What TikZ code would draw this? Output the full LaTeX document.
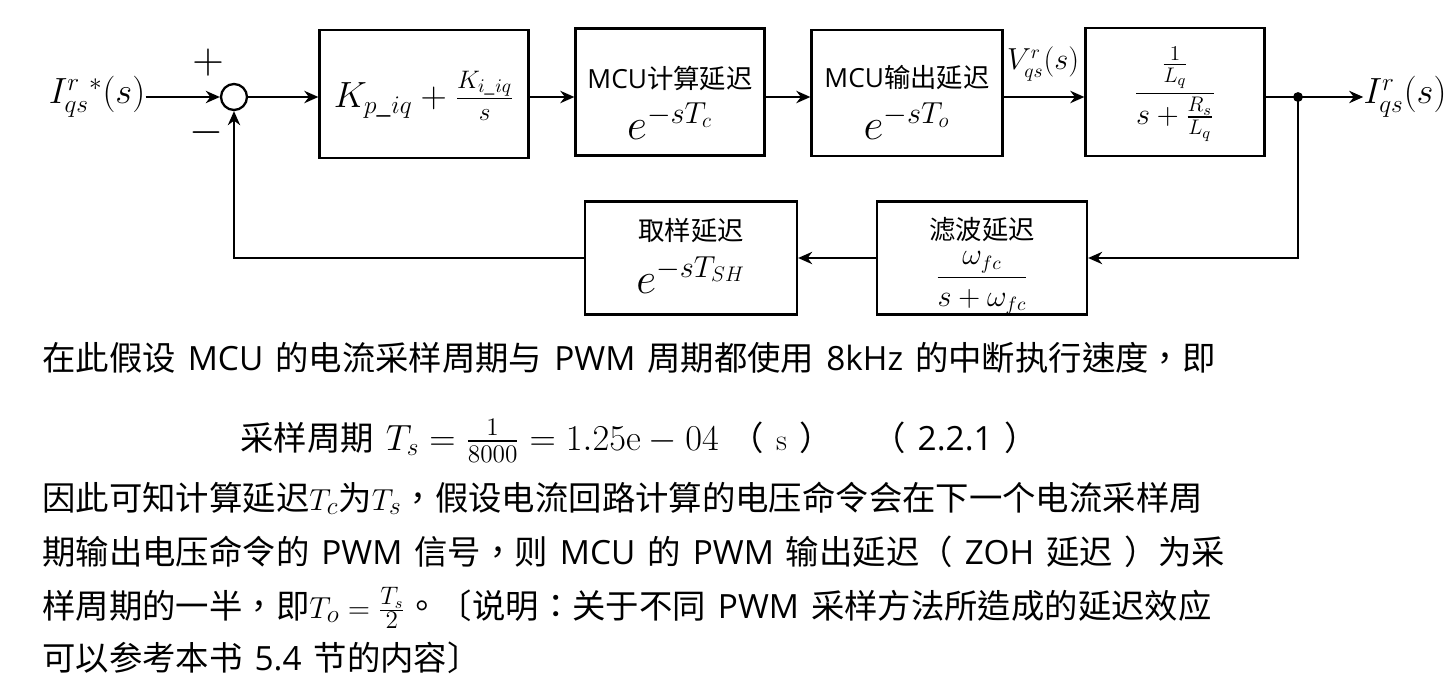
\documentclass[tikz,border=0pt]{standalone}
\usepackage{amsmath}
\usepackage[no-math]{fontspec}
\setmainfont{Noto Sans CJK TC}[WordSpace=1.6]
\newfontfamily\lt{Open Sans}
\usetikzlibrary{arrows.meta}

\begin{document}
\begin{tikzpicture}[x=0.02cm,y=-0.02cm,
  blk/.style={draw,line width=1.3pt,inner sep=0pt},
  sig/.style={line width=1.3pt,-{Stealth[length=8pt,width=7pt]}},
  wire/.style={line width=1.3pt},
  cap15/.style={font=\fontsize{15}{18}\selectfont,inner sep=0pt},
  mth/.style={font=\fontsize{24}{28}\selectfont,inner sep=0pt},
  sym/.style={font=\fontsize{20.5}{24}\selectfont,inner sep=0pt},
  para/.style={anchor=base west,inner sep=0pt,font=\fontsize{19}{23}\selectfont}]
\useasboundingbox (0,0) rectangle (1454,693);

% forward path
\node[sym] (iref) at (97,97) {$I_{qs}^{r}{}^{*}(s)$};
\node[draw,circle,line width=1.3pt,minimum size=0.52cm,inner sep=0pt] (sum) at (234,97) {};
\node[mth] at (208,63) {$+$};
\node[mth] at (206,133) {$-$};

\node[blk,minimum width=4.18cm,minimum height=2.56cm] (pi) at (424,94) {};
\node[font=\fontsize{21.5}{25}\selectfont,inner sep=0pt] at (424,96) {$K_{p\_iq}+\frac{K_{i\_iq}}{s}$};

\node[blk,minimum width=3.78cm,minimum height=2.54cm] (mcuc) at (670,92) {};
\node[cap15] at (670,78) {{\lt MCU}计算延迟};
\node[mth] at (670,121) {$e^{-sT_c}$};

\node[blk,minimum width=3.82cm,minimum height=2.52cm] (mcuo) at (907,93) {};
\node[cap15] at (907,78) {{\lt MCU}输出延迟};
\node[mth] at (907,121) {$e^{-sT_o}$};
\node[inner sep=0pt,font=\fontsize{16}{19}\selectfont] (vq) at (1043,64) {$V_{qs}^{r}(s)$};

\node[blk,minimum width=3.58cm,minimum height=2.56cm] (plant) at (1175,92) {};
\node[inner sep=0pt,font=\fontsize{18}{21}\selectfont] at (1175,94) {$\dfrac{\frac{1}{L_q}}{s+\frac{R_s}{L_q}}$};

\coordinate (tap) at (1298,97);
\node[sym] (iout) at (1405,97) {$I_{qs}^{r}(s)$};

% feedback path
\node[blk,minimum width=4.2cm,minimum height=2.26cm] (filt) at (982,258) {};
\node[cap15] at (982,230) {滤波延迟};
\node[inner sep=0pt,font=\fontsize{16}{19}\selectfont] at (982,283) {$\dfrac{\omega_{fc}}{s+\omega_{fc}}$};

\node[blk,minimum width=4.24cm,minimum height=2.26cm] (samp) at (691,258) {};
\node[cap15] at (691,231) {取样延迟};
\node[mth] at (691,275) {$e^{-sT_{SH}}$};

\draw[sig] (iref.east) -- (sum.west);
\draw[sig] (sum.east) -- (pi.west |- sum);
\draw[sig] (pi.east |- sum) -- (mcuc.west |- sum);
\draw[sig] (mcuc.east |- sum) -- (mcuo.west |- sum);
\draw[sig] (mcuo.east |- sum) -- (plant.west |- sum);
\draw[wire] (plant.east |- sum) -- (tap);
\draw[sig] (tap) -- (tap -| iout.west);
\fill (tap) circle (2.8pt);
\draw[sig] (tap) |- (filt.east);
\draw[sig] (filt.west) -- (samp.east);
\draw[sig] (samp.west) -| (sum.south);

% text below
\node[para] (l1) at (42,370) {在此假设 {\lt MCU} 的电流采样周期与 {\lt PWM} 周期都使用 {\lt 8kHz} 的中断执行速度，即};
\node[para] (l2) at (240,450) {采样周期 {\fontsize{21}{25}\selectfont$T_s=\frac{1}{8000}=1.25\mathrm{e}-04$} （ $\mathrm{s}$ ）};
\node[para] (l2n) at (872,450) {（ {\lt 2.2.1} ）};
\node[para] (l3) at (42,510) {因此可知计算延迟$T_c$为$T_s$，假设电流回路计算的电压命令会在下一个电流采样周};
\node[para] (l4) at (42,564) {期输出电压命令的 {\lt PWM} 信号，则 {\lt MCU} 的 {\lt PWM} 输出延迟（ {\lt ZOH} 延迟 ）为采};
\node[para] (l5) at (42,618) {样周期的一半，即$T_o=\frac{T_s}{2}$。〔说明：关于不同 {\lt PWM} 采样方法所造成的延迟效应};
\node[para] (l6) at (42,670) {可以参考本书 {\lt 5.4} 节的内容〕};
\end{tikzpicture}
\end{document}
